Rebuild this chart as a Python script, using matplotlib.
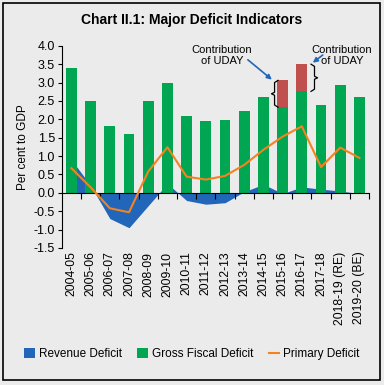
import numpy as np
import matplotlib
matplotlib.use("Agg")
import matplotlib.pyplot as plt
from matplotlib.patches import Rectangle

plt.rcParams["font.family"] = ["Liberation Sans", "DejaVu Sans"]
plt.rcParams["axes.unicode_minus"] = False

years = ["2004-05", "2005-06", "2006-07", "2007-08", "2008-09", "2009-10",
         "2010-11", "2011-12", "2012-13", "2013-14", "2014-15", "2015-16",
         "2016-17", "2017-18", "2018-19 (RE)", "2019-20 (BE)"]
gross_fiscal = [3.4, 2.5, 1.83, 1.6, 2.5, 3.0, 2.1, 1.96, 1.99, 2.23, 2.62,
                2.33, 2.76, 2.4, 2.94, 2.62]
uday = [0, 0, 0, 0, 0, 0, 0, 0, 0, 0, 0, 0.73, 0.74, 0, 0, 0]
revenue = [0.9, 0.2, -0.7, -0.95, -0.35, 0.25, -0.21, -0.31, -0.27, 0.03,
           0.23, -0.02, 0.16, 0.1, 0.05, -0.02]
primary = [0.67, 0.15, -0.42, -0.53, 0.58, 1.24, 0.44, 0.36, 0.46, 0.76,
           1.17, 1.53, 1.81, 0.7, 1.23, 0.95]

bg = "#ebebeb"
green = "#00a651"
blue = "#2166b8"
orange = "#f58220"
red = "#c0504d"


def brace(ax, xc, y0, y1, side):
    # thin curly bracket drawn as a polyline; side=-1 opens right, +1 opens left
    w = 0.18 * side
    ym = (y0 + y1) / 2
    xs = [xc - w, xc, xc, xc + w * 0.9, xc, xc, xc - w]
    ys = [y0, y0 + 0.06, ym - 0.04, ym, ym + 0.04, y1 - 0.06, y1]
    ax.plot(xs, ys, color="black", lw=0.9, zorder=5, solid_joinstyle="round")


fig = plt.figure(figsize=(3.84, 3.85), dpi=100, facecolor=bg)
ax = fig.add_axes([0.161, 0.356, 0.8, 0.525], facecolor=bg)

x = np.arange(len(years))
h_rev = ax.fill_between(x, revenue, 0, color=blue, lw=0, zorder=1)
h_gfd = ax.bar(x, gross_fiscal, width=0.57, color=green, zorder=2)
ax.bar(x, uday, width=0.57, bottom=gross_fiscal, color=red, zorder=2)
h_pd, = ax.plot(x, primary, color=orange, lw=1.5, zorder=3)

ax.set_xlim(-0.5, len(years) - 0.5)
ax.set_ylim(-1.5, 4.0)
ax.set_yticks(np.arange(-1.5, 4.01, 0.5))
ax.set_yticklabels(["%.1f" % v for v in np.arange(-1.5, 4.01, 0.5)], fontsize=9)
ax.tick_params(axis="y", length=3, width=0.8, pad=2)
ax.set_ylabel("Per cent to GDP", fontsize=8.5, labelpad=3)

for s in ["top", "right"]:
    ax.spines[s].set_visible(False)
ax.spines["bottom"].set_position(("data", 0))
ax.spines["left"].set_linewidth(0.8)
ax.spines["bottom"].set_linewidth(0.8)
ax.set_xticks(np.arange(0.5, len(years) - 0.5 + 0.01, 1.0))
ax.set_xticklabels([])
ax.tick_params(axis="x", length=4, width=0.8, direction="out")
for i, lab in enumerate(years):
    ax.text(i, -1.6, lab, rotation=90, ha="center", va="top", fontsize=8.7)

# UDAY annotations
ax.annotate("", xy=(10.44, 3.08), xytext=(9.19, 3.62),
            arrowprops=dict(arrowstyle="-|>", color=blue, lw=1.2,
                            mutation_scale=7, shrinkA=0, shrinkB=0), zorder=5)
ax.annotate("", xy=(12.57, 3.54), xytext=(13.09, 3.75),
            arrowprops=dict(arrowstyle="-|>", color=blue, lw=1.2,
                            mutation_scale=7, shrinkA=0, shrinkB=0), zorder=5)
ax.text(7.83, 3.74, "Contribution\nof UDAY", ha="center", va="center",
        fontsize=8, linespacing=1.15)
ax.text(14.1, 3.74, "Contribution\nof UDAY", ha="center", va="center",
        fontsize=8, linespacing=1.15)
brace(ax, 10.58, 2.33, 3.06, -1)
brace(ax, 12.66, 2.76, 3.5, 1)

fig.text(0.5, 0.947, "Chart II.1: Major Deficit Indicators", ha="center",
         va="center", fontsize=10, fontweight="bold")

leg = fig.legend([h_rev, h_gfd, h_pd],
                 ["Revenue Deficit", "Gross Fiscal Deficit", "Primary Deficit"],
                 loc="center", bbox_to_anchor=(0.5, 0.08), ncol=3, frameon=False,
                 fontsize=8.5, handlelength=0.9, handleheight=0.9,
                 handletextpad=0.35, columnspacing=1.3)
leg.legend_handles[2].set_linewidth(1.5)

fig.patches.append(Rectangle((3 / 384, 5 / 385), 377 / 384, 377 / 385,
                             transform=fig.transFigure, fill=False,
                             edgecolor="black", lw=1.2))

fig.savefig("out.png", dpi=100, facecolor=bg)
